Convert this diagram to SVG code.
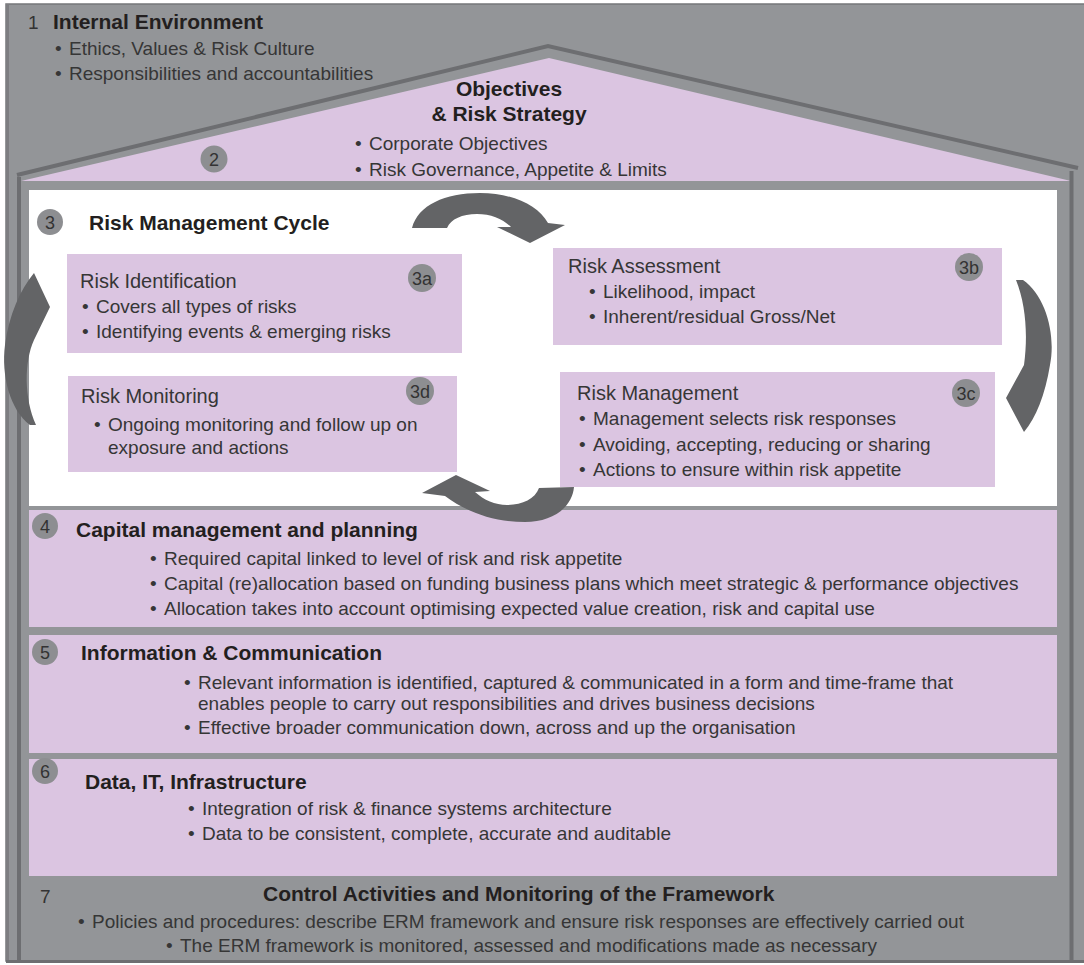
<svg xmlns="http://www.w3.org/2000/svg" width="1084" height="965" viewBox="0 0 1084 965">
<defs>
<style>
text { font-family: 'Liberation Sans', Arial, sans-serif; }
.h { font-weight: bold; font-size: 21px; fill: #231f20; }
.b { font-size: 19px; fill: #363636; }
.bt { font-size: 20px; fill: #363636; }
.n { font-size: 18px; fill: #333333; text-anchor: middle; }
.num { font-size: 19px; fill: #333333; }
.c { fill: #8d8e91; }
.pur { fill: #dbc5e1; }
.arrow { fill: #636466; }
.wall { stroke: #6d6e71; stroke-width: 4; fill: none; }
</style>
</defs>
<rect x="0" y="0" width="1084" height="965" fill="#ffffff"/>
<g id="frame">
<rect x="6" y="4" width="1090" height="957" fill="#939598" stroke="#76777a" stroke-width="1.5"/>
<rect x="6" y="4" width="3" height="958" fill="#7d7e81"/>
<rect x="6" y="960" width="1078" height="3" fill="#6d6e71"/>
<polygon points="21,181 549,58 1071,181" class="pur"/>
<polyline points="17,175 548,46 1078,168" class="wall"/>
<line x1="19" y1="177" x2="19" y2="960" class="wall" stroke-width="3"/>
<line x1="1071.5" y1="171" x2="1071.5" y2="960" class="wall" stroke-width="3"/>
<rect x="29" y="190" width="1028" height="316" fill="#ffffff"/>
</g>
<g id="n1-internal-environment">
<text x="28" y="29" class="num">1</text>
<text x="53" y="29" class="h">Internal Environment</text>
<text x="55" y="55" class="b">•</text><text x="69" y="55" class="b">Ethics, Values &amp; Risk Culture</text>
<text x="55" y="80" class="b">•</text><text x="69" y="80" class="b">Responsibilities and accountabilities</text>
</g>
<g id="n2-objectives">
<text x="509" y="96" class="h" text-anchor="middle">Objectives</text>
<text x="509" y="121" class="h" text-anchor="middle">&amp; Risk Strategy</text>
<text x="355" y="150" class="b">•</text><text x="369" y="150" class="b">Corporate Objectives</text>
<text x="355" y="176" class="b">•</text><text x="369" y="176" class="b">Risk Governance, Appetite &amp; Limits</text>
<circle cx="214" cy="159" r="13.5" class="c"/><text x="214" y="165.5" class="n">2</text>
</g>
<g id="n3-cycle">
<circle cx="50" cy="222" r="13" class="c"/><text x="50" y="228.5" class="n">3</text>
<text x="89" y="230" class="h">Risk Management Cycle</text>
</g>
<g id="n3a">
<rect x="67" y="254" width="395" height="99" class="pur"/>
<text x="80" y="288" class="bt">Risk Identification</text>
<text x="82" y="313" class="b">•</text><text x="96" y="313" class="b">Covers all types of risks</text>
<text x="82" y="338" class="b">•</text><text x="96" y="338" class="b">Identifying events &amp; emerging risks</text>
<circle cx="422" cy="278" r="14" class="c"/><text x="422" y="284.5" class="n">3a</text>
</g>
<g id="n3b">
<rect x="553" y="248" width="449" height="97" class="pur"/>
<text x="568" y="273" class="bt">Risk Assessment</text>
<text x="589" y="298" class="b">•</text><text x="603" y="298" class="b">Likelihood, impact</text>
<text x="589" y="323" class="b">•</text><text x="603" y="323" class="b">Inherent/residual Gross/Net</text>
<circle cx="969" cy="267" r="14" class="c"/><text x="969" y="273.5" class="n">3b</text>
</g>
<g id="n3d">
<rect x="68" y="376" width="389" height="96" class="pur"/>
<text x="81" y="403" class="bt">Risk Monitoring</text>
<text x="94" y="431" class="b">•</text><text x="108" y="431" class="b">Ongoing monitoring and follow up on</text>
<text x="108" y="454" class="b">exposure and actions</text>
<circle cx="420" cy="391" r="14" class="c"/><text x="420" y="397.5" class="n">3d</text>
</g>
<g id="n3c">
<rect x="560" y="372" width="435" height="115" class="pur"/>
<text x="577" y="400" class="bt">Risk Management</text>
<text x="579" y="425" class="b">•</text><text x="593" y="425" class="b">Management selects risk responses</text>
<text x="579" y="451" class="b">•</text><text x="593" y="451" class="b">Avoiding, accepting, reducing or sharing</text>
<text x="579" y="476" class="b">•</text><text x="593" y="476" class="b">Actions to ensure within risk appetite</text>
<circle cx="966" cy="393" r="14" class="c"/><text x="966" y="399.5" class="n">3c</text>
</g>
<g id="n4-capital">
<rect x="29" y="510" width="1028" height="117" class="pur"/>
<circle cx="45" cy="526" r="13" class="c"/><text x="45" y="532.5" class="n">4</text>
<text x="76" y="537" class="h">Capital management and planning</text>
<text x="150" y="565" class="b">•</text><text x="164" y="565" class="b">Required capital linked to level of risk and risk appetite</text>
<text x="150" y="590" class="b">•</text><text x="164" y="590" class="b">Capital (re)allocation based on funding business plans which meet strategic &amp; performance objectives</text>
<text x="150" y="615" class="b">•</text><text x="164" y="615" class="b">Allocation takes into account optimising expected value creation, risk and capital use</text>
</g>
<g id="n5-information">
<rect x="29" y="635" width="1028" height="118" class="pur"/>
<circle cx="45" cy="652" r="13" class="c"/><text x="45" y="658.5" class="n">5</text>
<text x="81" y="660" class="h">Information &amp; Communication</text>
<text x="184" y="689" class="b">•</text><text x="198" y="689" class="b">Relevant information is identified, captured &amp; communicated in a form and time-frame that</text>
<text x="198" y="710" class="b">enables people to carry out responsibilities and drives business decisions</text>
<text x="184" y="734" class="b">•</text><text x="198" y="734" class="b">Effective broader communication down, across and up the organisation</text>
</g>
<g id="n6-data">
<rect x="29" y="759" width="1028" height="117" class="pur"/>
<circle cx="45" cy="771" r="13" class="c"/><text x="45" y="777.5" class="n">6</text>
<text x="85" y="789" class="h">Data, IT, Infrastructure</text>
<text x="188" y="815" class="b">•</text><text x="202" y="815" class="b">Integration of risk &amp; finance systems architecture</text>
<text x="188" y="840" class="b">•</text><text x="202" y="840" class="b">Data to be consistent, complete, accurate and auditable</text>
</g>
<g id="n7-control">
<text x="40" y="903" class="num">7</text>
<text x="263" y="901" class="h">Control Activities and Monitoring of the Framework</text>
<text x="78" y="928" class="b">•</text><text x="92" y="928" class="b">Policies and procedures: describe ERM framework and ensure risk responses are effectively carried out</text>
<text x="166" y="952" class="b">•</text><text x="180" y="952" class="b">The ERM framework is monitored, assessed and modifications made as necessary</text>
</g>
<g id="connectors">
<path class="arrow" d="M412,228 C418,205 445,193 480,193 C512,193 538,205 548,223 L565,225 L530,243 L497,227 L511,227 C503,219 491,214 477,214 C462,214 451,219 447,228 Z"/>
<path class="arrow" d="M1016,280 L1023,280 C1046,296 1056,335 1050,365 C1045,395 1036,418 1024,432 L1006,398 L1024,365 C1028,335 1026,305 1016,280 Z"/>
<path class="arrow" d="M574,487 C572,508 552,522 525,522 C495,522 468,513 445,496 L422,493 L456,475 L490,491 L475,492 C484,500 495,505 507,505 C522,505 535,499 539,488 Z"/>
<path class="arrow" d="M30,425 C10,410 1,375 5,345 C9,315 20,290 34,273 L50,307 L34,340 C24,362 24,398 36,425 Z"/>
</g>
</svg>
